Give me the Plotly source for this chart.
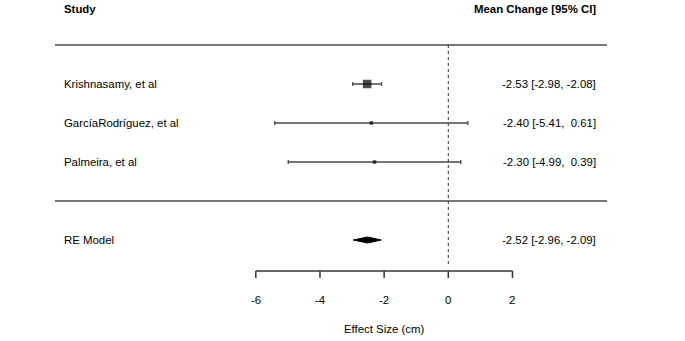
import plotly.graph_objects as go

studies = ["Krishnasamy, et al", "GarcíaRodríguez, et al", "Palmeira, et al"]
means = [-2.53, -2.40, -2.30]
lower = [-2.98, -5.41, -4.99]
upper = [-2.08, 0.61, 0.39]
re_label = "RE Model"
re_mean = -2.52
re_lower = -2.96
re_upper = -2.09
tick_vals = [-6, -4, -2, 0, 2]
header_left = "Study"
header_right = "Mean Change [95% CI]"
x_title = "Effect Size (cm)"

FONT = "Liberation Sans, Arial, sans-serif"
FS = 11.4
GRAY = "#4a4a4a"

# layout (pixel mapping): x pixel = 448 + 32.08*x ; y pixel = 84 + 39*row
px_per_unit = 32.08
x0_pix = 448.3
W, H = 685, 341
xr = [(0 - x0_pix) / px_per_unit, (W - x0_pix) / px_per_unit]
row0, rowh = 84, 39
yr = [(H - row0) / rowh, (0 - row0) / rowh]

def xp(p):
    return (p - x0_pix) / px_per_unit

def yp(p):
    return (p - row0) / rowh

rows = list(range(len(studies)))
re_row = len(studies) + 1
sep_row = len(studies)
top_row = -1
axis_row = yp(271)

fig = go.Figure()

# weights -> marker sizes
ses = [(u - l) / (2 * 1.96) for l, u in zip(lower, upper)]
wts = [1 / s ** 2 for s in ses]
wmin, wmax = min(wts), max(wts)
sizes = [3.5 + 5 * (w - wmin) / (wmax - wmin) for w in wts]

fig.add_trace(go.Scatter(
    x=means, y=rows, mode="markers",
    marker=dict(symbol="square", size=sizes, color="black", line=dict(width=0)),
    error_x=dict(type="data", symmetric=False,
                 array=[u - m for u, m in zip(upper, means)],
                 arrayminus=[m - l for l, m in zip(lower, means)],
                 color=GRAY, thickness=1.3, width=2),
    hoverinfo="skip", showlegend=False))

# RE diamond
h = 3 / rowh
fig.add_trace(go.Scatter(
    x=[re_lower, re_mean, re_upper, re_mean, re_lower],
    y=[re_row, re_row - h, re_row, re_row + h, re_row],
    mode="lines", fill="toself", fillcolor="black",
    line=dict(color="black", width=1), hoverinfo="skip", showlegend=False))

shapes = []
for r in [top_row, sep_row]:
    shapes.append(dict(type="line", xref="x", yref="y", x0=xp(55), x1=xp(607),
                       y0=r, y1=r, line=dict(color=GRAY, width=1.5)))
shapes.append(dict(type="line", xref="x", yref="y", x0=0, x1=0, y0=top_row, y1=yp(267),
                   line=dict(color="#333", width=1, dash="dot")))
shapes.append(dict(type="line", xref="x", yref="y", x0=tick_vals[0], x1=tick_vals[-1],
                   y0=axis_row, y1=axis_row, line=dict(color="#333", width=1.5)))
for t in tick_vals:
    shapes.append(dict(type="line", xref="x", yref="y", x0=t, x1=t,
                       y0=axis_row, y1=axis_row + 7 / rowh, line=dict(color="#333", width=1.5)))

annotations = []
def txt(x, y, s, anchor, bold=False, size=FS):
    annotations.append(dict(x=x, y=y, xref="x", yref="y", text=f"<b>{s}</b>" if bold else s,
                            showarrow=False, xanchor=anchor, yanchor="middle",
                            font=dict(family=FONT, size=size, color="black")))

txt(xp(62), yp(9), header_left, "left", bold=True)
txt(xp(598), yp(9), header_right, "right", bold=True)

def fmt(v):
    return f"{v:5.2f}".replace(" ", "\u00a0")

for r, s, m, l, u in zip(rows, studies, means, lower, upper):
    txt(xp(62), r, s, "left")
    txt(xp(598), r, f"{m:.2f} [{fmt(l)}, {fmt(u)}]", "right")
txt(xp(62), re_row, re_label, "left")
txt(xp(598), re_row, f"{re_mean:.2f} [{fmt(re_lower)}, {fmt(re_upper)}]", "right")

for t in tick_vals:
    txt(t, yp(300), f"{t}", "center")
txt((tick_vals[0] + tick_vals[-1]) / 2, yp(329), x_title, "center")

fig.update_layout(
    width=W, height=H, margin=dict(l=0, r=0, t=0, b=0),
    paper_bgcolor="white", plot_bgcolor="white",
    xaxis=dict(range=xr, visible=False, fixedrange=True),
    yaxis=dict(range=yr, visible=False, fixedrange=True),
    shapes=shapes, annotations=annotations,
)
fig.write_html("out.html", config={"displayModeBar": False},
               post_script="document.body.style.margin='0';document.body.style.overflow='hidden';")
